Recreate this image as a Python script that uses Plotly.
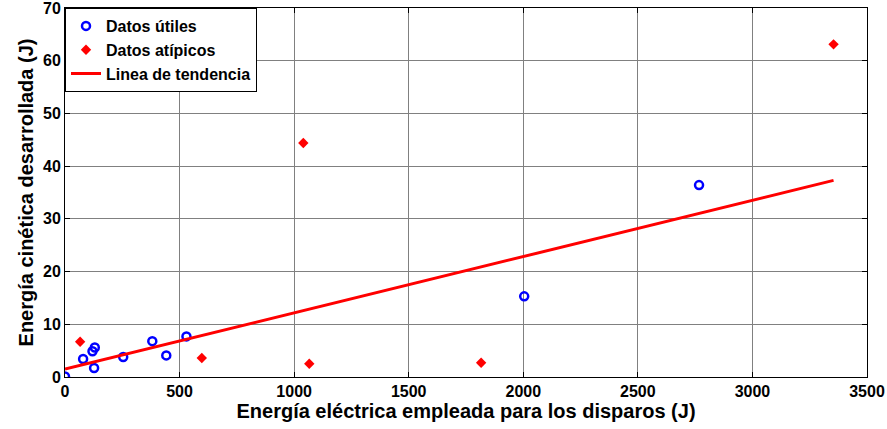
import plotly.graph_objects as go

utiles_x = [0, 79, 120, 130, 127, 254, 381, 442, 530, 2004, 2767]
utiles_y = [0.1, 3.4, 4.9, 5.6, 1.7, 3.8, 6.8, 4.1, 7.7, 15.3, 36.4]

atipicos_x = [66, 597, 1040, 1066, 1816, 3354]
atipicos_y = [6.7, 3.6, 44.4, 2.5, 2.7, 63.1]

trend_x = [0, 3354]
trend_y = [1.5, 37.3]

fig = go.Figure()
fig.add_trace(go.Scatter(x=utiles_x, y=utiles_y, mode="markers", name="Datos útiles",
                         marker=dict(symbol="circle-open", size=8, color="#0000ff",
                                     line=dict(width=2.5, color="#0000ff"))))
fig.add_trace(go.Scatter(x=atipicos_x, y=atipicos_y, mode="markers", name="Datos atípicos",
                         marker=dict(symbol="diamond", size=8, color="#ff0000")))
fig.add_trace(go.Scatter(x=trend_x, y=trend_y, mode="lines", name="Linea de tendencia",
                         line=dict(color="#ff0000", width=3)))

axis_common = dict(showline=True, linecolor="black", linewidth=1, mirror="ticks",
                   ticks="inside", ticklen=5, tickcolor="black", automargin=False,
                   ticklabeloverflow="allow",
                   showgrid=True, gridcolor="#808080", gridwidth=1, zeroline=False,
                   tickfont=dict(family="Liberation Sans", size=16, color="black", weight="bold"))

title_font = dict(family="Liberation Sans", size=20, color="black", weight="bold")

fig.update_layout(
    width=887, height=429,
    margin=dict(l=65, r=20, t=8, b=52),
    paper_bgcolor="white", plot_bgcolor="white",
    showlegend=True,
    legend=dict(x=0, y=1, xanchor="left", yanchor="top", bgcolor="white",
                bordercolor="black", borderwidth=1,
                font=dict(family="Liberation Sans", size=16, color="black", weight="bold"),
                tracegroupgap=0, itemwidth=30),
    xaxis=dict(range=[0, 3500], dtick=500, tick0=0,
               title=dict(text="Energía eléctrica empleada para los disparos (J)",
                          font=title_font, standoff=4),
               **axis_common),
    yaxis=dict(range=[0, 70], dtick=10, tick0=0,
               title=dict(text="Energía cinética desarrollada (J)",
                          font=title_font, standoff=4),
               **axis_common),
)

fig.write_html("out.html", config={"displayModeBar": False},
               post_script="document.body.style.margin='0px';")
